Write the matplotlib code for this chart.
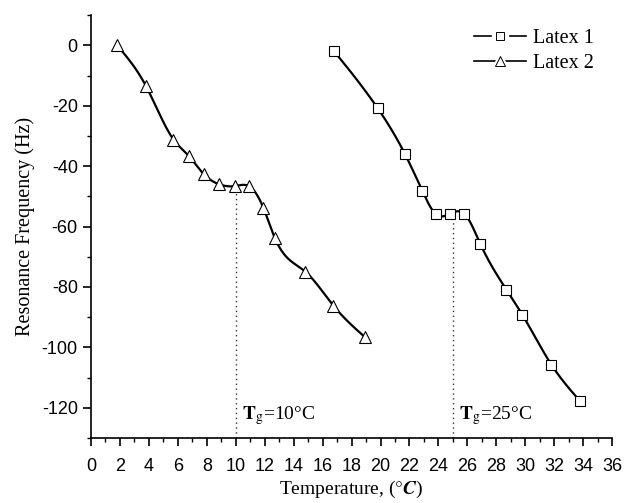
import numpy as np
import matplotlib.pyplot as plt
from matplotlib.ticker import MultipleLocator
from matplotlib.lines import Line2D
from matplotlib.legend_handler import HandlerTuple

# Latex 1 (squares)
latex1_t = [16.8, 19.8, 21.7, 22.9, 23.8, 24.8, 25.8, 26.9, 28.7, 29.8, 31.8, 33.75]
latex1_f = [-2.0, -20.8, -36.1, -48.3, -55.8, -55.8, -55.8, -65.8, -80.9, -89.2, -105.7, -117.6]

# Latex 2 (triangles)
latex2_t = [1.8, 3.8, 5.7, 6.75, 7.8, 8.85, 9.95, 10.9, 11.9, 12.7, 14.8, 16.75, 18.9]
latex2_f = [0.0, -13.5, -31.2, -36.6, -42.7, -46.0, -46.6, -46.6, -53.7, -63.8, -74.9, -86.2, -96.5]

tg_values = [10, 25]
tg_labels = ['10', '25']

plt.rcParams['mathtext.fontset'] = 'stix'
plt.rcParams['axes.unicode_minus'] = False
SERIF = 'Liberation Serif'
SANS = 'Liberation Sans'


def spline(x, y, n=500):
    """Natural cubic spline through the points."""
    x = np.asarray(x, float)
    y = np.asarray(y, float)
    N = len(x)
    h = np.diff(x)
    A = np.zeros((N, N))
    b = np.zeros(N)
    A[0, 0] = A[-1, -1] = 1.0
    for i in range(1, N - 1):
        A[i, i - 1] = h[i - 1]
        A[i, i] = 2 * (h[i - 1] + h[i])
        A[i, i + 1] = h[i]
        b[i] = 6 * ((y[i + 1] - y[i]) / h[i] - (y[i] - y[i - 1]) / h[i - 1])
    M = np.linalg.solve(A, b)
    xs = np.linspace(x[0], x[-1], n)
    k = np.clip(np.searchsorted(x, xs) - 1, 0, N - 2)
    dx0 = xs - x[k]
    dx1 = x[k + 1] - xs
    hk = h[k]
    ys = (M[k] * dx1**3 + M[k + 1] * dx0**3) / (6 * hk) \
        + (y[k] / hk - M[k] * hk / 6) * dx1 + (y[k + 1] / hk - M[k + 1] * hk / 6) * dx0
    return xs, ys


fig = plt.figure(figsize=(6.24, 5.03), dpi=100)
ax = fig.add_axes([0.1458, 0.1292, 0.981 - 0.1458, 0.970 - 0.1292])

handles = []
for t, f, mk, ms, lab in [(latex1_t, latex1_f, 's', 7, 'Latex 1'),
                          (latex2_t, latex2_f, '^', 8, 'Latex 2')]:
    xs, ys = spline(t, f)
    ax.plot(xs, ys, color='black', lw=1.6, zorder=2)
    ax.plot(t, f, mk, ms=ms, mfc='white', mec='black', mew=0.8, zorder=3)
    # legend handle: line with a gap around a small open marker
    h_line = Line2D([], [], color='black', lw=1.2)
    h_gap = Line2D([], [], ls='none', marker=mk, ms=ms + 5, mfc='white', mec='white')
    h_mark = Line2D([], [], ls='none', marker=mk, ms=ms - 1, mfc='white', mec='black', mew=0.7)
    handles.append(((h_line, h_gap, h_mark), lab))

# Tg markers
for tg, lab, t, f in [(tg_values[0], tg_labels[0], latex2_t, latex2_f),
                      (tg_values[1], tg_labels[1], latex1_t, latex1_f)]:
    ytop = np.interp(tg, t, f)
    ax.plot([tg, tg], [-130, ytop], ls=(0, (1, 2.5)), color='#333333', lw=1, zorder=1)
    ax.text(tg + 0.45, -122.5, r'$\mathbf{T}_{\mathrm{g}}$=' + lab + '°C',
            fontsize=14, family=SERIF, va='center', ha='left')

ax.set_xlim(0, 36)
ax.set_ylim(-130, 10)
ax.xaxis.set_major_locator(MultipleLocator(2))
ax.xaxis.set_minor_locator(MultipleLocator(1))
ax.yaxis.set_minor_locator(MultipleLocator(10))
ax.set_yticks([0, -20, -40, -60, -80, -100, -120])

for s in ['top', 'right']:
    ax.spines[s].set_visible(False)
for s in ['left', 'bottom']:
    ax.spines[s].set_linewidth(1.2)

ax.tick_params(which='major', direction='out', length=5.5, width=1.2, labelsize=13)
ax.tick_params(which='minor', direction='out', length=3, width=1.0)
ax.tick_params(axis='x', which='major', pad=9)
ax.tick_params(axis='y', which='major', pad=4)
for lbl in ax.get_xticklabels() + ax.get_yticklabels():
    lbl.set_family(SANS)

ax.set_xlabel(r'Temperature, ($\degree\mathbfit{C}$)', fontsize=14, family=SERIF, labelpad=3)
ax.set_ylabel('Resonance Frequency (Hz)', fontsize=14.5, family=SERIF, labelpad=5)

ax.legend([h for h, _ in handles], [l for _, l in handles],
          handler_map={tuple: HandlerTuple(ndivide=1)},
          loc='upper right', bbox_to_anchor=(1.0, 1.01), frameon=False,
          prop={'family': SERIF, 'size': 14.5}, handlelength=2.6,
          handletextpad=0.35, labelspacing=0.3)

fig.savefig('out.png', dpi=100)
